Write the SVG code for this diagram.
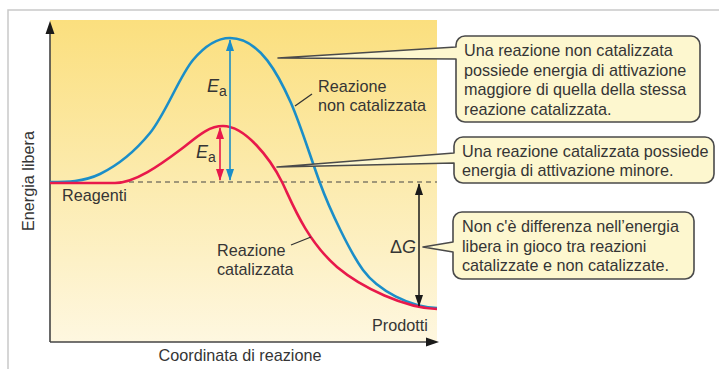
<svg xmlns="http://www.w3.org/2000/svg" width="719" height="369" viewBox="0 0 719 369">
  <defs>
    <linearGradient id="bg" x1="0" y1="0" x2="0" y2="1">
      <stop offset="0" stop-color="#fbdf7e"/>
      <stop offset="0.5" stop-color="#fcebae"/>
      <stop offset="1" stop-color="#fef7e0"/>
    </linearGradient>
    <marker id="ah-blue" viewBox="0 0 12 8" refX="11" refY="4" markerWidth="12" markerHeight="8" markerUnits="userSpaceOnUse" orient="auto-start-reverse">
      <path d="M0,0 L12,4 L0,8 Z" fill="#1b8ec8"/>
    </marker>
    <marker id="ah-red" viewBox="0 0 12 8" refX="11" refY="4" markerWidth="12" markerHeight="8" markerUnits="userSpaceOnUse" orient="auto-start-reverse">
      <path d="M0,0 L12,4 L0,8 Z" fill="#e8194b"/>
    </marker>
    <marker id="ah-black" viewBox="0 0 12 8" refX="11" refY="4" markerWidth="12" markerHeight="8" markerUnits="userSpaceOnUse" orient="auto-start-reverse">
      <path d="M0,0 L12,4 L0,8 Z" fill="#1a1a1a"/>
    </marker>
  </defs>
  <style>
    text { font-family: "Liberation Sans", Arial, sans-serif; font-size: 16.2px; fill: #353535; }
    .box { fill: #fdf7cf; stroke: #4a4a4a; stroke-width: 1.6; stroke-linejoin: round; }
    .axis { stroke: #444; stroke-width: 1.6; fill: none; }
    .lead { stroke: #333; stroke-width: 1.3; fill: none; }
    .blue { stroke: #1b8ec8; stroke-width: 2.6; fill: none; }
    .red { stroke: #e8194b; stroke-width: 2.6; fill: none; }
    .sym { font-size: 18px; }
    .sub { font-size: 14px; }
  </style>

  <rect x="0" y="0" width="719" height="369" fill="#ffffff"/>
  <path d="M8,369 V10 H719" fill="none" stroke="#c9c9c9" stroke-width="1.5"/>

  <g id="plot">
    <rect x="50" y="20" width="387" height="322" fill="url(#bg)"/>
    <path class="axis" d="M50,342 V32"/>
    <path d="M50,21 L54.5,34 L45.5,34 Z" fill="#1a1a1a"/>
    <path class="axis" d="M50,342 H428"/>
    <path d="M439,342 L426,337.5 L426,346.5 Z" fill="#1a1a1a"/>
    <text transform="translate(34,181) rotate(-90)" text-anchor="middle">Energia libera</text>
    <text x="240" y="361" text-anchor="middle">Coordinata di reazione</text>
    <line x1="120" y1="182" x2="437" y2="182" stroke="#444" stroke-width="1.2" stroke-dasharray="5,4"/>
    <text x="62" y="201">Reagenti</text>
    <text x="372" y="331">Prodotti</text>
  </g>

  <g id="curva-non-catalizzata">
    <path class="blue" d="M50,182 C67,182 83.3,182 100,174 C116.7,165.8 134.5,152 150,133 C165.5,114 179.7,75.8 193,60 C206.3,44.2 217.7,38 230,38 C260,38 279,76 291,103 C301,126 310,156 320,183 C330,210.4 350,252 363,270 C378,290.5 410,307 437,308"/>
    <text x="318" y="92">Reazione</text>
    <text x="318" y="111">non catalizzata</text>
  </g>

  <g id="curva-catalizzata">
    <path class="red" d="M50,183 L115,183 C135,183 160,165 180,150 C195,138.7 207,126 223,126 C245,126 270,158 282,182 C291,200 305,239 337,267 C362,288 405,308 437,309"/>
    <text x="217" y="256">Reazione</text>
    <text x="217" y="275">catalizzata</text>
  </g>

  <g id="energia-attivazione">
    <text x="207" y="92" class="sym" font-style="italic">E</text>
    <text x="219" y="96" class="sub">a</text>
    <text x="196" y="158" class="sym" font-style="italic">E</text>
    <text x="208" y="162" class="sub">a</text>
  </g>

  <g id="delta-g">
    <text x="390" y="253" class="sym">Δ<tspan font-style="italic">G</tspan></text>
  </g>

  <g id="connectors">
    <line class="blue" style="stroke-width:1.6" x1="230" y1="40" x2="230" y2="180" marker-start="url(#ah-blue)" marker-end="url(#ah-blue)"/>
    <line class="red" style="stroke-width:1.6" x1="220" y1="128" x2="220" y2="180" marker-start="url(#ah-red)" marker-end="url(#ah-red)"/>
    <line x1="419" y1="184" x2="419" y2="306" stroke="#1a1a1a" stroke-width="1.5" marker-start="url(#ah-black)" marker-end="url(#ah-black)"/>
    <line class="lead" x1="295" y1="106" x2="312" y2="94"/>
    <line class="lead" x1="291" y1="245" x2="311" y2="237"/>
  </g>

  <g id="nota-1">
    <path class="box" d="M465,36 H691 A9,9 0 0 1 700,45 V113 A9,9 0 0 1 691,122 H465 A9,9 0 0 1 456,113 V59 L278,58 L456,47 V45 A9,9 0 0 1 465,36 Z"/>
    <text x="464" y="56">Una reazione non catalizzata</text>
    <text x="464" y="75.5">possiede energia di attivazione</text>
    <text x="464" y="95">maggiore di quella della stessa</text>
    <text x="464" y="114.5">reazione catalizzata.</text>
  </g>

  <g id="nota-2">
    <path class="box" d="M463,137 H705 A9,9 0 0 1 714,146 V174 A9,9 0 0 1 705,183 H463 A9,9 0 0 1 454,174 V163 L277,167 L454,153 V146 A9,9 0 0 1 463,137 Z"/>
    <text x="462" y="157">Una reazione catalizzata possiede</text>
    <text x="462" y="176">energia di attivazione minore.</text>
  </g>

  <g id="nota-3">
    <path class="box" d="M462,212 H685 A9,9 0 0 1 694,221 V270 A9,9 0 0 1 685,279 H462 A9,9 0 0 1 453,270 V252 L423,247 L453,242 V221 A9,9 0 0 1 462,212 Z"/>
    <text x="462" y="232">Non c'è differenza nell’energia</text>
    <text x="462" y="251.5">libera in gioco tra reazioni</text>
    <text x="462" y="271">catalizzate e non catalizzate.</text>
  </g>
</svg>
